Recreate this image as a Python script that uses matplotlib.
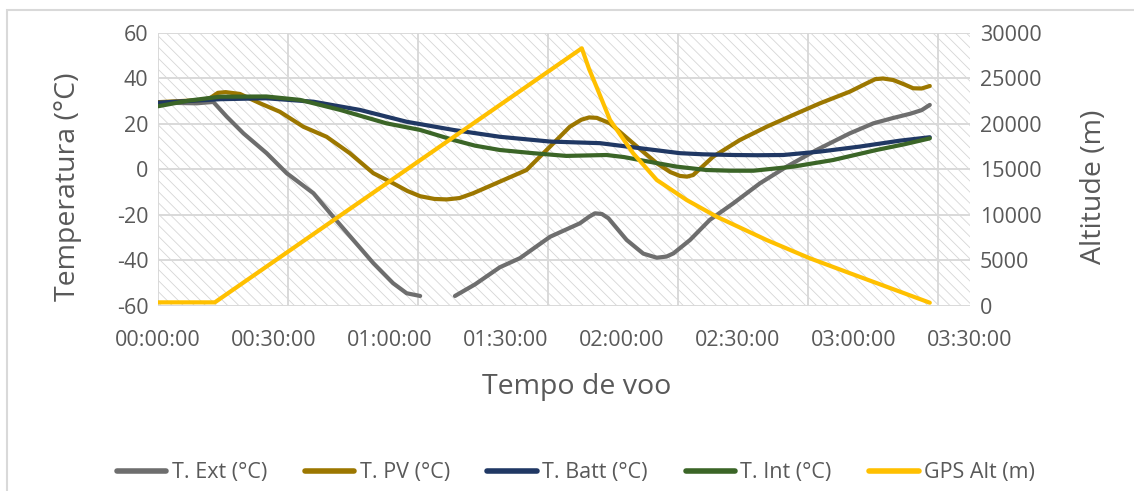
import numpy as np
import matplotlib
matplotlib.use("Agg")
import matplotlib.pyplot as plt
from matplotlib.lines import Line2D
from matplotlib.patches import Rectangle

plt.rcParams['font.family'] = ['Open Sans', 'DejaVu Sans']
plt.rcParams['axes.unicode_minus'] = False
plt.rcParams['hatch.linewidth'] = 0.6

# time in minutes since launch
t_ext = [0, 10.0, 14.3, 17.8, 22.1, 28.1, 33.3, 40.2, 45.3, 50.5, 55.7, 60.8, 64.3, 67.8,
         72.0,
         76.8, 82.0, 88.4, 93.6, 101.4, 109.1, 111.5, 113.0, 114.8, 116.5, 121.2, 125.5,
         129.0, 131.5, 133.3, 137.6, 142.7, 148.8, 155.7, 162.6, 170.3, 178.9, 185.0,
         190.0, 194.5, 197.5, 199.6]
v_ext = [29.3, 29.0, 29.6, 23.1, 15.8, 7.1, -1.7, -10.5, -20.8, -31.0, -41.2, -50.0, -54.4, -55.6,
         np.nan,
         -55.6, -50.5, -43.0, -39.0, -29.6, -23.7, -20.8, -19.3, -19.6, -21.5, -31.0, -37.0,
         -38.8, -38.3, -36.9, -31.0, -22.2, -14.9, -6.1, 1.2, 8.5, 15.8, 20.2,
         22.5, 24.4, 26.0, 28.3]

t_pv = [0, 10.9, 13.4, 15.5, 17.5, 21.2, 26.4, 31.5, 37.6, 43.6, 49.6, 55.7, 60.8, 64.5,
        67.8, 71.5, 74.7, 78.0, 81.5, 88.4, 95.3, 101.4, 106.5, 109.5, 111.5, 113.5, 116.9,
        122.9, 129.0, 132.5, 135.0, 136.8, 138.4, 143.6, 150.5, 157.4, 164.3, 171.2,
        178.9, 183.3, 185.5, 187.5, 190.2, 193.0, 195.3, 197.5, 199.6]
v_pv = [29.5, 30.4, 31.2, 33.6, 33.9, 33.1, 29.0, 25.3, 18.7, 14.3, 7.1, -1.7, -6.1, -9.5,
        -11.8, -13.0, -13.2, -12.6, -10.5, -5.4, -0.3, 10.0, 18.7, 21.8, 22.8, 22.6, 20.2,
        11.4, 2.7, -1.2, -2.9, -3.2, -2.5, 5.6, 12.9, 18.7, 23.9, 29.0,
        34.1, 37.8, 39.6, 39.9, 39.2, 37.3, 35.6, 35.5, 36.6]

t_batt = [0, 8.0, 16.0, 28.0, 40.2, 52.2, 64.3, 76.4, 88.4, 101.4, 114.3, 124.6, 135.0,
          141.0, 148.8, 155.0, 161.7, 171.2, 181.5, 191.9, 199.6]
v_batt = [29.3, 30.0, 30.8, 31.2, 29.7, 26.1, 20.9, 17.3, 14.3, 12.2, 11.5, 9.3, 7.1,
          6.6, 6.3, 6.2, 6.3, 7.8, 10.0, 12.6, 14.1]

t_int = [0, 8.0, 16.0, 28.0, 36.7, 47.1, 59.1, 67.8, 76.4, 82.0, 88.4, 97.0, 105.6, 116.0,
         120.5, 124.6, 129.5, 134.1, 141.9, 148.0, 154.0, 164.3, 174.6, 185.8, 193.0, 199.6]
v_int = [27.7, 30.2, 31.9, 32.0, 30.5, 26.1, 20.2, 17.3, 12.9, 10.4, 8.5, 7.1, 5.9, 6.3,
         5.4, 4.1, 2.6, 1.2, -0.3, -0.6, -0.6, 1.2, 4.1, 8.5, 11.0, 13.6]

t_alt = [0, 14.7, 109.6, 111.5, 113.4, 116.9, 122.9, 129.0, 136.7, 144.5, 157.4, 168.6,
         179.0, 191.9, 199.6]
v_alt = [400, 400, 28290, 26000, 24070, 20420, 16760, 13830, 11640, 9800, 7245, 5235,
         3590, 1570, 360]

x_ticks = [0, 30, 60, 90, 120, 150, 180, 210]
x_labels = ['00:00:00', '00:30:00', '01:00:00', '01:30:00',
            '02:00:00', '02:30:00', '03:00:00', '03:30:00']

c_ext, c_pv, c_batt, c_int, c_alt = '#6E6E6E', '#9C7700', '#203864', '#3B6527', '#FFC000'
txt = '#595959'
grid = '#D9D9D9'

fig = plt.figure(figsize=(11.34, 4.91), dpi=100)
fig.patches.append(Rectangle((7 / 1134, -0.1), 1.2, 1.1 - 10 / 491, transform=fig.transFigure,
                             fill=False, edgecolor='#D9D9D9', linewidth=1.5))

ax = fig.add_axes([158 / 1134, 1 - 306 / 491, 812 / 1134, 273.3 / 491])
ax2 = ax.twinx()

# hatched plot background
ax.add_patch(Rectangle((0, 0), 1, 1, transform=ax.transAxes, facecolor='white',
                       edgecolor='#D6D6D6', hatch='\\\\\\', linewidth=0, zorder=0))

ax.set_xlim(0, 210)
ax.set_ylim(-60, 60)
ax2.set_ylim(0, 30000)

# gridlines
for y in range(-60, 61, 20):
    ax.axhline(y, color=grid, lw=1.4, zorder=1)
for k in range(7):
    ax.axvline(k * 210 * 130 / 812, color=grid, lw=1.4, zorder=1)

lw = 3.0
ax.plot(t_ext, v_ext, color=c_ext, lw=lw, solid_capstyle='round', solid_joinstyle='round', zorder=3)
ax.plot(t_pv, v_pv, color=c_pv, lw=lw, solid_capstyle='round', solid_joinstyle='round', zorder=3)
ax.plot(t_batt, v_batt, color=c_batt, lw=lw, solid_capstyle='round', solid_joinstyle='round', zorder=3)
ax.plot(t_int, v_int, color=c_int, lw=lw, solid_capstyle='round', solid_joinstyle='round', zorder=3)
ax2.plot(t_alt, v_alt, color=c_alt, lw=lw, solid_capstyle='round', solid_joinstyle='round', zorder=3)

for a in (ax, ax2):
    for s in a.spines.values():
        s.set_visible(False)
    a.tick_params(length=0, colors=txt, labelsize=15.5)

ax.set_xticks(x_ticks)
ax.set_xticklabels(x_labels)
ax.set_yticks(range(-60, 61, 20))
ax2.set_yticks(range(0, 30001, 5000))
ax.tick_params(axis='x', pad=17)
ax.tick_params(axis='y', pad=7)
ax2.tick_params(axis='y', pad=7)

ax.set_xlabel('Tempo de voo', fontsize=20.5, color=txt)
ax.xaxis.set_label_coords(0.516, -0.245)
ax.set_ylabel('Temperatura (°C)', fontsize=20.5, color=txt)
ax.yaxis.set_label_coords(-0.094, 0.436)
ax2.set_ylabel('Altitude (m)', fontsize=20.5, color=txt)
ax2.yaxis.set_label_coords(1.136, 0.436)

handles = [Line2D([], [], color=c, lw=4, solid_capstyle='round')
           for c in (c_ext, c_pv, c_batt, c_int, c_alt)]
labels = ['T. Ext (°C)', 'T. PV (°C)', 'T. Batt (°C)', 'T. Int (°C)', 'GPS Alt (m)']
leg = fig.legend(handles, labels, loc='center', bbox_to_anchor=(0.508, 0.037), ncol=5,
                 frameon=False, fontsize=15.5, handlelength=2.3, handletextpad=0.25,
                 columnspacing=1.75)
for t in leg.get_texts():
    t.set_color(txt)

fig.savefig('out.png', dpi=100)
